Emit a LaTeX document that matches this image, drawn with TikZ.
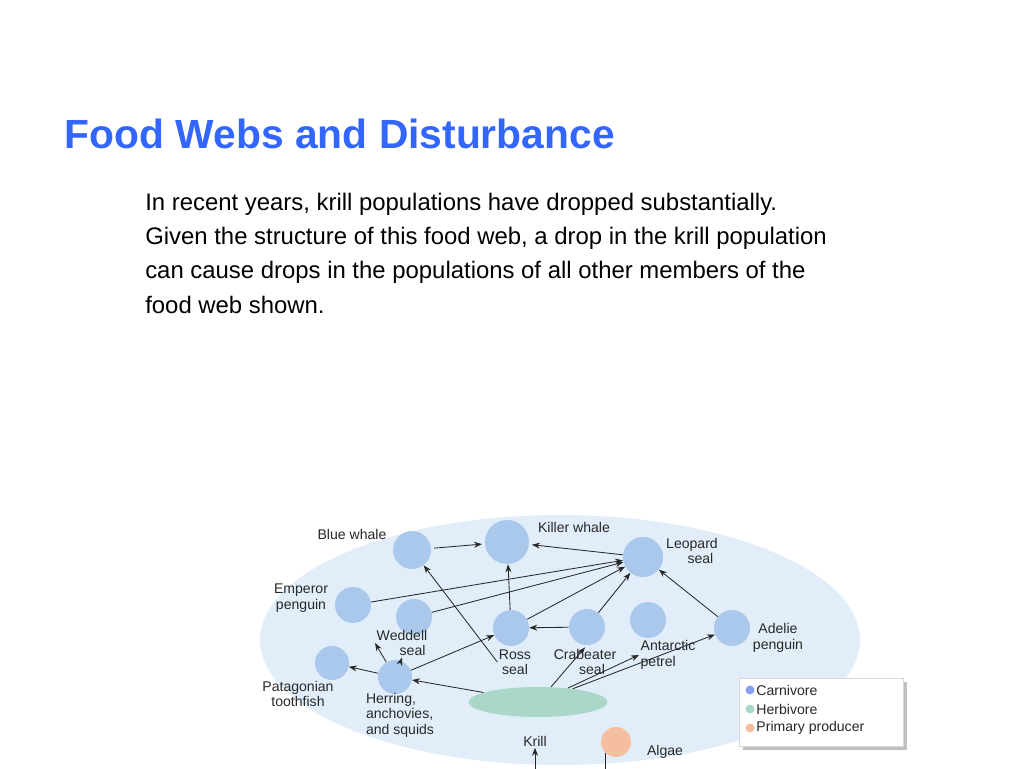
\documentclass[tikz,border=0pt]{standalone}
\usepackage{fontspec}
\setmainfont{Liberation Sans}
\usetikzlibrary{arrows.meta, shapes.geometric, shadows}
\definecolor{titleblue}{RGB}{51, 102, 255}
\definecolor{carni}{RGB}{170, 200, 235}
\definecolor{herbi}{RGB}{170, 215, 200}
\definecolor{prod}{RGB}{245, 190, 160}
\definecolor{glow}{RGB}{225, 238, 250}
\definecolor{textdark}{RGB}{40, 40, 40}
\newcommand{\px}{0.25mm}

\begin{document}
\begin{tikzpicture}[
    x=0.25mm, y=-0.25mm,
    animal/.style={circle, fill=carni, minimum size=38*\px, inner sep=0pt},
    lbl/.style={font=\fontsize{10}{11}\selectfont, align=center, text=textdark, inner sep=1pt},
    arrow/.style={-{Stealth[length=2mm]}, semithick, color=textdark},
    dot/.style={circle, inner sep=0pt, minimum size=9*\px}
]
\useasboundingbox (0,0) rectangle (1024,768);

% Title and text
\node[anchor=base west, font=\bfseries\fontsize{29}{34}\selectfont, text=titleblue] (title) at (60,148) {Food Webs and Disturbance};
\node[anchor=north west, align=left, font=\fontsize{17}{24.3}\selectfont, inner sep=0pt] (body) at (145,193)
  {In recent years, krill populations have dropped substantially.\\
   Given the structure of this food web, a drop in the krill population\\
   can cause drops in the populations of all other members of the\\
   food web shown.};

% Background glow
\fill[glow] (560,640) ellipse (300 and 125);

% Organisms
\node[animal] (bluewhale) at (412,550) {};
\node[animal, minimum size=44*\px] (killer) at (507,542) {};
\node[animal, minimum size=40*\px] (leopard) at (643,557) {};
\node[animal, minimum size=36*\px] (emperor) at (353,605) {};
\node[animal, minimum size=36*\px] (weddell) at (414,617) {};
\node[animal, minimum size=36*\px] (ross) at (511,628) {};
\node[animal, minimum size=36*\px] (crab) at (587,627) {};
\node[animal, minimum size=36*\px] (petrel) at (648,620) {};
\node[animal, minimum size=36*\px] (adelie) at (732,628) {};
\node[animal, minimum size=34*\px] (tooth) at (332,663) {};
\node[animal, minimum size=34*\px] (herring) at (395,677) {};
\node[ellipse, fill=herbi, minimum width=139*\px, minimum height=30*\px, inner sep=0pt] (krill) at (538,702) {};
\node[circle, fill=prod, minimum size=30*\px, inner sep=0pt] (algae) at (616,742) {};

% Labels
\node[lbl] (lbluewhale) at (352,534) {Blue whale};
\node[lbl] (lkiller) at (574,527) {Killer whale};
\node[lbl] (lleopard) at (692,551) {Leopard\\\hspace*{1.2em}seal};
\node[lbl] (lemperor) at (301,598) {Emperor\\penguin};
\node[lbl] (lweddell) at (402,643) {Weddell\\\hspace*{1.5em}seal};
\node[lbl] (lross) at (515,662) {Ross\\seal};
\node[lbl] (lcrab) at (585,662) {Crabeater\\\hspace*{1em}seal};
\node[lbl, align=left] (lpetrel) at (668,655) {Antarctic\\petrel};
\node[lbl] (ladelie) at (778,638) {Adelie\\penguin};
\node[lbl] (ltooth) at (298,694) {Patagonian\\toothfish};
\node[lbl, align=left] (lherring) at (400,715) {Herring,\\anchovies,\\and squids};
\node[lbl] (lkrill) at (535,741) {Krill};
\node[lbl] (lalgae) at (665,752) {Algae};

% Feeding links
\draw[arrow, shorten <=2, shorten >=2] (bluewhale) -- (killer);
\draw[arrow, shorten >=2] (leopard) -- (killer);
\draw[arrow] (ross) -- (killer);
\draw[arrow] (lross.west) -- (bluewhale);
\draw[arrow] (emperor) -- (leopard);
\draw[arrow] (weddell) -- (leopard);
\draw[arrow] (ross) -- (leopard);
\draw[arrow] (crab) -- (leopard);
\draw[arrow] (adelie) -- (leopard);
\draw[arrow] (crab) -- (ross);
\draw[arrow] (herring) -- (lweddell.west);
\draw[arrow] (herring) -- (lweddell.south);
\draw[arrow] (herring) -- (tooth);
\draw[arrow] (herring) -- (ross);
\draw[arrow] (krill) -- (herring);
\draw[arrow] (krill) -- (lcrab.north);
\draw[arrow] (krill) -- (lpetrel.west);
\draw[arrow] (krill) -- (adelie);
\draw[arrow] (algae.south west) |- ++(0,18) -| (lkrill.south);

% Legend
\node[draw=black!15, fill=white, drop shadow, minimum width=164*\px, minimum height=68*\px] (legend) at (821,712) {};
\node[dot, fill=carni!80!blue] (dcarni) at (750,690) {};
\node[dot, fill=herbi] (dherbi) at (750,709) {};
\node[dot, fill=prod] (dprod) at (750,728) {};
\node[lbl, anchor=west] (lcarni) at (dcarni.east) {Carnivore};
\node[lbl, anchor=west] (lherbi) at (dherbi.east) {Herbivore};
\node[lbl, anchor=west] (lprod) at (dprod.east) {Primary producer};

\end{tikzpicture}
\end{document}
